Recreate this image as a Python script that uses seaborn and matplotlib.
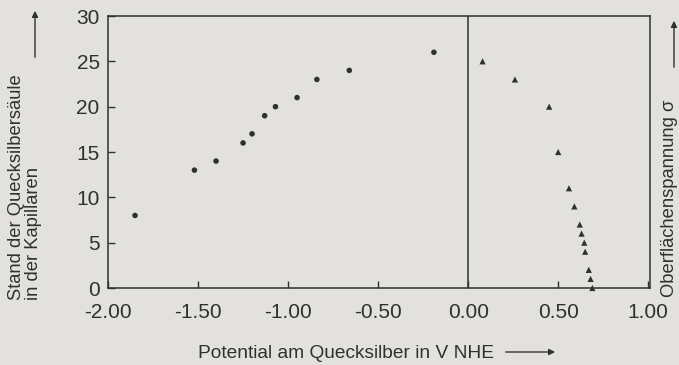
import matplotlib
matplotlib.use("Agg")
import matplotlib.pyplot as plt
import seaborn as sns
import pandas as pd

# Height of the mercury column in the capillary (left scale)
potential_column = [-1.85, -1.52, -1.40, -1.25, -1.20, -1.13, -1.07, -0.95, -0.84, -0.66, -0.19]
column_height = [8, 13, 14, 16, 17, 19, 20, 21, 23, 24, 26]

# Surface tension sigma (same plotting scale)
potential_sigma = [0.08, 0.26, 0.45, 0.50, 0.56, 0.59, 0.62, 0.63, 0.645, 0.65, 0.67, 0.68, 0.69]
sigma_values = [25, 23, 20, 15, 11, 9, 7, 6, 5, 4, 2, 1, 0]

x_ticks = [-2.0, -1.5, -1.0, -0.5, 0.0, 0.5, 1.0]
x_tick_labels = ["-2.00", "-1.50", "-1.00", "-0.50", "0.00", "0.50", "1.00"]
y_ticks = [0, 5, 10, 15, 20, 25, 30]

paper = "#e3e1de"
ink = "#303030"

sns.set_theme(style="ticks")
plt.rcParams["font.family"] = ["Liberation Sans", "DejaVu Sans"]

fig = plt.figure(figsize=(6.79, 3.65), dpi=100, facecolor=paper)
ax = fig.add_axes([108 / 679, 1 - 288 / 365, (650 - 108) / 679, (288 - 16) / 365])
ax.set_facecolor(paper)

df_col = pd.DataFrame({"U": potential_column, "h": column_height})
df_sig = pd.DataFrame({"U": potential_sigma, "s": sigma_values})

sns.scatterplot(data=df_col, x="U", y="h", ax=ax, marker="o", s=16,
                color=ink, edgecolor="none", legend=False, zorder=3)
sns.scatterplot(data=df_sig, x="U", y="s", ax=ax, marker="^", s=20,
                color=ink, edgecolor="none", legend=False, zorder=3, clip_on=False)

ax.axvline(0.0, color=ink, lw=1.1, zorder=2)

ax.set_xlim(-2.0, 1.01)
ax.set_ylim(0, 30)
ax.set_xticks(x_ticks)
ax.set_xticklabels(x_tick_labels)
ax.set_yticks(y_ticks)
ax.set_xlabel("")
ax.set_ylabel("")

for sp in ax.spines.values():
    sp.set_color(ink)
    sp.set_linewidth(1.1)

ax.tick_params(axis="both", direction="in", length=5, width=1.0, color=ink,
               labelcolor=ink, labelsize=15)
ax.tick_params(axis="x", pad=11)
ax.tick_params(axis="y", pad=6)

# Axis captions
fig.text(346 / 679, 1 - 353 / 365, "Potential am Quecksilber in V NHE",
         ha="center", va="center", fontsize=13.8, color=ink)
fig.add_artist(matplotlib.patches.FancyArrowPatch(
    (503 / 679, 1 - 352 / 365), (558 / 679, 1 - 352 / 365),
    transform=fig.transFigure, arrowstyle="-|>", mutation_scale=9,
    color=ink, lw=1.0))

fig.text(17 / 679, 1 - 300 / 365, "Stand der Quecksilbersäule",
         rotation=90, ha="center", va="bottom", fontsize=13.2, color=ink)
fig.text(34 / 679, 1 - 300 / 365, "in der Kapillaren",
         rotation=90, ha="center", va="bottom", fontsize=13.2, color=ink)
fig.add_artist(matplotlib.patches.FancyArrowPatch(
    (35 / 679, 1 - 60 / 365), (35 / 679, 1 - 8 / 365),
    transform=fig.transFigure, arrowstyle="-|>", mutation_scale=9,
    color=ink, lw=1.0))

fig.text(670 / 679, 1 - 297 / 365, "Oberflächenspannung σ",
         rotation=90, ha="center", va="bottom", fontsize=13.2, color=ink)
fig.add_artist(matplotlib.patches.FancyArrowPatch(
    (674 / 679, 1 - 70 / 365), (674 / 679, 1 - 18 / 365),
    transform=fig.transFigure, arrowstyle="-|>", mutation_scale=9,
    color=ink, lw=1.0))

fig.savefig("out.png", dpi=100, facecolor=paper)
